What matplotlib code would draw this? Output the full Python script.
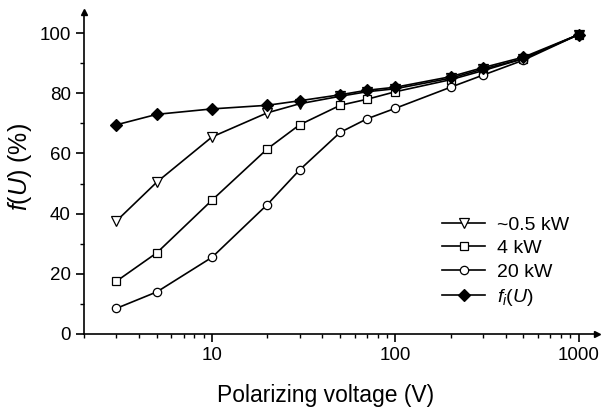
import matplotlib
matplotlib.use('Agg')
import matplotlib.pyplot as plt
from matplotlib.ticker import FixedLocator, NullFormatter, FixedFormatter

plt.rcParams['font.family'] = ['Liberation Sans', 'DejaVu Sans']
plt.rcParams['mathtext.fontset'] = 'custom'
plt.rcParams['mathtext.it'] = 'Liberation Sans:italic'
plt.rcParams['mathtext.rm'] = 'Liberation Sans'

# polarizing voltage (V)
voltage = [3, 5, 10, 20, 30, 50, 70, 100, 200, 300, 500, 1000]

# f(U) in %
p_05kw = [37.5, 50.5, 65.5, 73.5, 76.5, 79.0, 80.5, 81.5, 85.0, 88.0, 91.5, 99.5]
p_4kw = [17.5, 27.0, 44.5, 61.5, 69.5, 76.0, 78.0, 80.5, 84.5, 87.5, 91.5, 99.5]
p_20kw = [8.5, 14.0, 25.5, 43.0, 54.5, 67.0, 71.5, 75.0, 82.0, 86.0, 91.0, 99.5]
f_i = [69.5, 73.0, 74.8, 76.0, 77.5, 79.5, 81.0, 82.0, 85.5, 88.5, 92.0, 99.5]

fig = plt.figure(figsize=(6.02, 4.07), dpi=100)
ax = fig.add_axes([84 / 602, 1 - 334 / 407, 513 / 602, 322 / 407])

common = dict(color='black', lw=1.2, mec='black')
ax.plot(voltage, p_05kw, marker='v', ms=7, mfc='white', mew=0.9, label='~0.5 kW', **common)
ax.plot(voltage, p_4kw, marker='s', ms=5.5, mfc='white', mew=0.9, label='4 kW', **common)
ax.plot(voltage, p_20kw, marker='o', ms=6, mfc='white', mew=0.9, label='20 kW', **common)
ax.plot(voltage, f_i, marker='D', ms=6.5, mfc='black', mew=0.9, label=r'$f_i(U)$', **common)

ax.set_xscale('log')
ax.set_xlim(2, 1260)
ax.set_ylim(0, 107)

ax.xaxis.set_major_locator(FixedLocator([10, 100, 1000]))
ax.xaxis.set_major_formatter(FixedFormatter(['10', '100', '1000']))
minors = [m * d for d in (1, 10, 100) for m in range(2, 10)]
ax.xaxis.set_minor_locator(FixedLocator(minors))
ax.xaxis.set_minor_formatter(NullFormatter())

ax.yaxis.set_major_locator(FixedLocator([0, 20, 40, 60, 80, 100]))
ax.yaxis.set_minor_locator(FixedLocator([10, 30, 50, 70, 90]))

for s in ('top', 'right'):
    ax.spines[s].set_visible(False)
for s in ('left', 'bottom'):
    ax.spines[s].set_linewidth(1.2)

ax.tick_params(which='major', direction='out', length=6, width=1.2, labelsize=13.5)
ax.tick_params(which='minor', direction='out', length=3, width=1.0)

# arrow heads at axis ends
ax.plot(1, 0, '>k', ms=5, transform=ax.transAxes, clip_on=False)
ax.plot(0, 1, '^k', ms=5, transform=ax.transAxes, clip_on=False)

ax.set_xlabel('Polarizing voltage (V)', fontsize=16.5)
ax.xaxis.set_label_coords(0.47, -0.155)
ax.set_ylabel(r'$f(U)$ (%)', fontsize=18)
ax.yaxis.set_label_coords(-0.097, 0.52)

ax.legend(loc='upper left', bbox_to_anchor=(0.683, 0.39), frameon=False, fontsize=14,
          handlelength=2.2, handletextpad=0.6, labelspacing=0.3, borderaxespad=0)

fig.savefig('out.png', dpi=100)
